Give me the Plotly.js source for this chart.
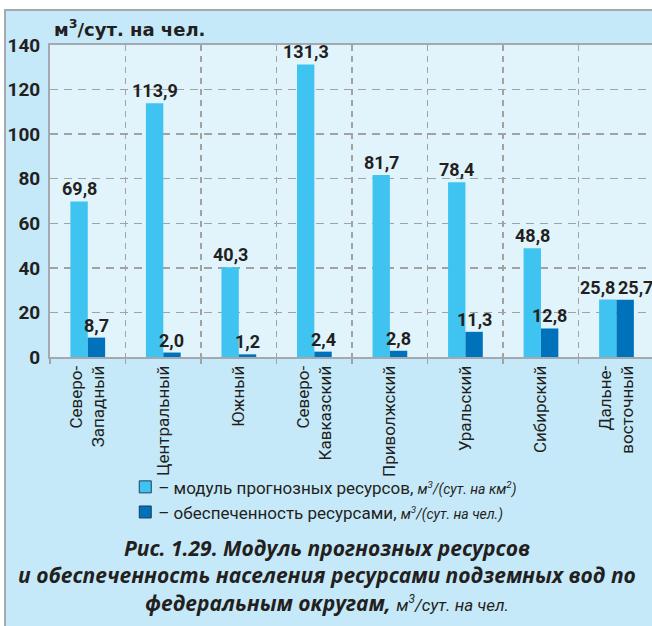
<!DOCTYPE html>
<html>
<head>
<meta charset="utf-8">
<script src="https://cdn.plot.ly/plotly-3.0.1.min.js"></script>
<style>
  html, body { margin:0; padding:0; background:#ffffff; overflow:hidden; }
  #wrap { position:relative; width:652px; height:626px; overflow:hidden; }
  #frame { position:absolute; left:4px; top:9px; width:700px; height:700px;
           background:#c6e9f9; border-left:2px solid #a3a9ae; border-top:2px solid #a3a9ae; }
  #chart { position:absolute; left:0; top:0; width:652px; height:626px; }
  #chart .legend .legendtext { transform: translateX(-7px); }
  #chart .legend .legendpoints path { stroke: #1d3f5e !important; stroke-width: 1px !important; }
</style>
</head>
<body>
<div id="wrap">
  <div id="frame"></div>
  <div id="chart"></div>
</div>
<script>
const categories = ["Северо-<br>Западный", "Центральный", "Южный", "Северо-<br>Кавказский",
                    "Приволжский", "Уральский", "Сибирский", "Дальне-<br>восточный"];
const moduleValues = [69.8, 113.9, 40.3, 131.3, 81.7, 78.4, 48.8, 25.8];
const supplyValues = [8.7, 2.0, 1.2, 2.4, 2.8, 11.3, 12.8, 25.7];
const yTicks = [0, 20, 40, 60, 80, 100, 120, 140];
const seriesNames = [
  "– модуль прогнозных ресурсов, <i><span style='font-size:14px'>м<sup>3</sup>/(сут. на км<sup>2</sup>)</span></i>",
  "– обеспеченность ресурсами, <i><span style='font-size:14px'>м<sup>3</sup>/(сут. на чел.)</span></i>"
];
const yTitle = "м<sup>3</sup>/сут. на чел.";
const captionText = "<b><i>Рис. 1.29. Модуль прогнозных ресурсов<br>" +
  "и обеспеченность населения ресурсами подземных вод по<br>" +
  "федеральным округам, </i></b><i><span style='font-size:17px;font-family:Roboto'>м<sup>3</sup>/сут. на чел.</span></i>";

const narrow = "Roboto, sans-serif";
const textColor = "#231f20";

const W = 652, H = 626;
const M = {l: 50, r: 0, t: 45, b: 269};
const xRange = [-0.5, 7.47];
const yRange = [0, 140];
const bargap = 0.54;
const plotW = W - M.l - M.r, plotH = H - M.t - M.b;
const catPx = plotW / (xRange[1] - xRange[0]);
const barOffset = (1 - bargap) * catPx / 4;
const pxPerUnit = plotH / (yRange[1] - yRange[0]);

const traces = [
  {type: "bar", x: categories, y: moduleValues, name: seriesNames[0],
   marker: {color: "#3fc4f1"}, hoverinfo: "skip"},
  {type: "bar", x: categories, y: supplyValues, name: seriesNames[1],
   marker: {color: "#0072bb"}, hoverinfo: "skip"}
];

const fmt = v => v.toFixed(1).replace(".", ",");
const labelFont = {family: narrow, size: 18, color: textColor, weight: 700};
const annotations = [];
categories.forEach((c, i) => {
  const a = moduleValues[i], b = supplyValues[i];
  const close = Math.abs(a - b) * pxPerUnit < 16;
  const spread = close ? 10 : 0;
  annotations.push({x: c, y: a, xref: "x", yref: "y", text: fmt(a), showarrow: false,
    xanchor: "center", yanchor: "bottom", xshift: -barOffset - spread, font: labelFont});
  annotations.push({x: c, y: b, xref: "x", yref: "y", text: fmt(b), showarrow: false,
    xanchor: "center", yanchor: "bottom", xshift: barOffset + spread, font: labelFont});
});
annotations.push({
  xref: "paper", yref: "paper", x: 0.003, y: (H - M.b - 28) / plotH,
  xanchor: "left", yanchor: "middle", showarrow: false,
  text: "<b>" + yTitle + "</b>",
  font: {family: "DejaVu Sans, sans-serif", size: 18, color: textColor}
});
annotations.push({
  xref: "paper", yref: "paper", x: (327 - M.l) / plotW, y: (H - M.b - 575) / plotH,
  xanchor: "center", yanchor: "middle", showarrow: false, align: "center",
  text: captionText, font: {family: "Open Sans, sans-serif", size: 21, color: textColor}
});

const layout = {
  width: W, height: H,
  margin: M,
  paper_bgcolor: "rgba(0,0,0,0)",
  plot_bgcolor: "#e1f4fc",
  barmode: "group",
  bargap: bargap,
  bargroupgap: 0,
  showlegend: true,
  legend: {
    x: 0.125, xanchor: "left", y: -0.36, yanchor: "top",
    bgcolor: "rgba(0,0,0,0)",
    font: {family: narrow, size: 17, color: textColor},
    itemwidth: 30, tracegroupgap: 0
  },
  xaxis: {
    type: "category",
    range: xRange,
    tickson: "boundaries",
    showgrid: true, gridcolor: "#a2a2a2", gridwidth: 1.5, griddash: "6px,5px",
    showline: true, linecolor: "#a3a9ae", linewidth: 2, mirror: true,
    ticks: "outside", ticklen: 5, tickcolor: "#a2a2a2", tickwidth: 1.5,
    tickangle: -90,
    tickfont: {family: narrow, size: 17, color: textColor},
    zeroline: false
  },
  yaxis: {
    range: yRange,
    tickvals: yTicks,
    ticktext: yTicks.map(String),
    showgrid: true, gridcolor: "#a2a2a2", gridwidth: 1.5, griddash: "8px,6px",
    showline: true, linecolor: "#a3a9ae", linewidth: 2,
    ticks: "", ticklabelstandoff: 4,
    tickfont: {family: narrow, size: 19, color: textColor, weight: 700},
    zeroline: false
  },
  annotations: annotations
};

Plotly.newPlot("chart", traces, layout, {displayModeBar: false, staticPlot: true});
</script>
</body>
</html>
